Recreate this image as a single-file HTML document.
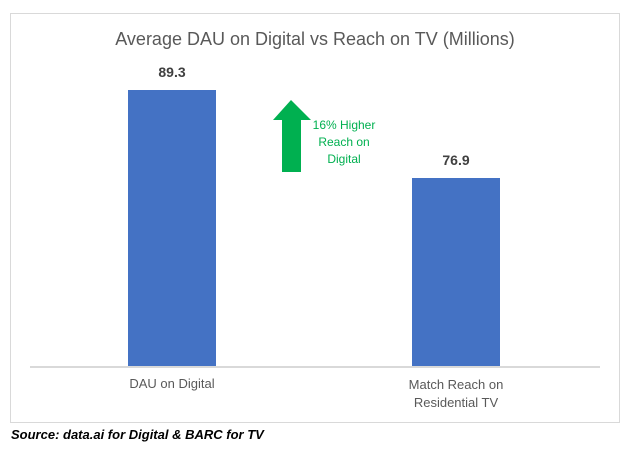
<!DOCTYPE html>
<html><head><style>
body{margin:0;width:630px;height:455px;background:#fff;font-family:"Liberation Sans",sans-serif;position:relative;overflow:hidden}
.a{position:absolute;white-space:nowrap}
</style></head><body>
<div class="a" style="left:10px;top:13px;width:608px;height:408px;border:1.5px solid #d9d9d9"></div>
<div class="a" style="left:0;width:630px;top:29px;text-align:center;font-size:18px;color:#595959">Average DAU on Digital vs Reach on TV (Millions)</div>
<div class="a" style="left:128px;top:90px;width:88px;height:276px;background:#4472c4"></div>
<div class="a" style="left:412px;top:178px;width:88px;height:188px;background:#4472c4"></div>
<div class="a" style="left:30px;top:366px;width:570px;height:1.5px;background:#d9d9d9"></div>
<div class="a" style="left:128px;width:88px;top:64px;text-align:center;font-size:14px;font-weight:bold;color:#404040">89.3</div>
<div class="a" style="left:412px;width:88px;top:152px;text-align:center;font-size:14px;font-weight:bold;color:#404040">76.9</div>
<svg class="a" style="left:0;top:0" width="630" height="455"><polygon points="291,100 311,120 301,120 301,172 282,172 282,120 273,120" fill="#00b050"/></svg>
<div class="a" style="left:300px;width:88px;top:117px;text-align:center;font-size:12px;line-height:17px;color:#00b050">16% Higher<br>Reach on<br>Digital</div>
<div class="a" style="left:92px;width:160px;top:376px;text-align:center;font-size:13px;color:#595959">DAU on Digital</div>
<div class="a" style="left:376px;width:160px;top:376px;text-align:center;font-size:13px;line-height:18px;color:#595959">Match Reach on<br>Residential TV</div>
<div class="a" style="left:11px;top:427px;font-size:13px;font-weight:bold;font-style:italic;color:#000">Source: data.ai for Digital &amp; BARC for TV</div>
</body></html>
